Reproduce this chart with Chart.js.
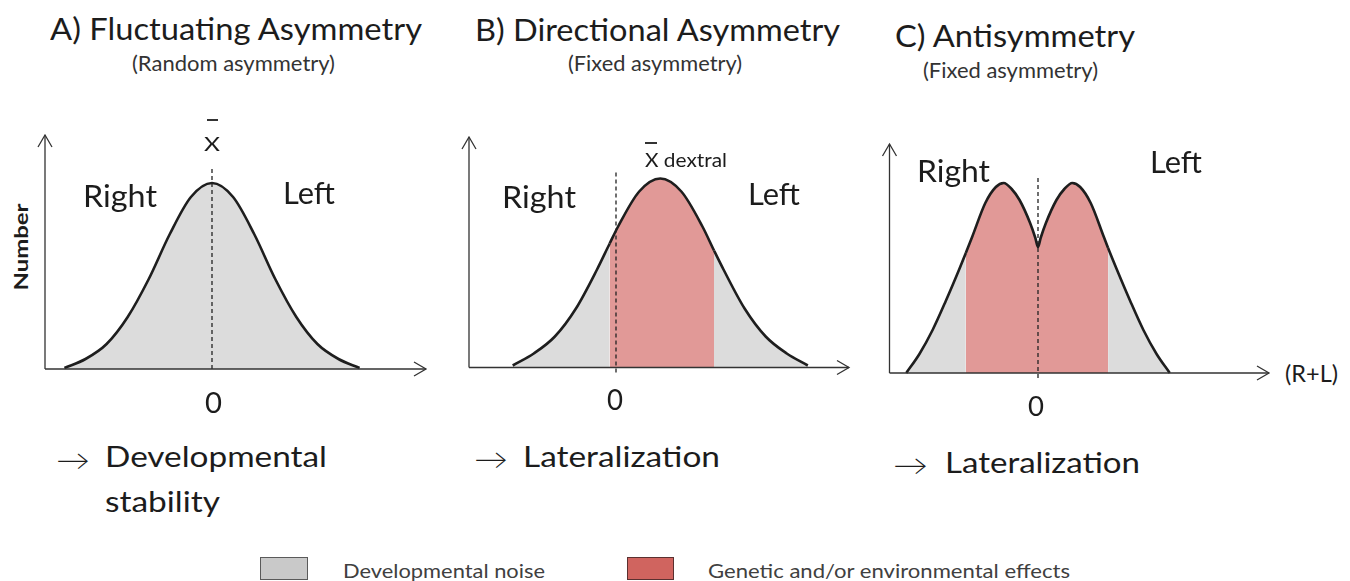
<!DOCTYPE html>
<html><head><meta charset="utf-8">
<script src="https://cdn.jsdelivr.net/npm/chart.js@4.4.1/dist/chart.umd.min.js"></script>
<style>
html,body{margin:0;padding:0;background:#fff;width:1350px;height:581px;overflow:hidden;position:relative;}
canvas{position:absolute;}
.lbl{position:absolute;white-space:nowrap;line-height:1;color:#1c1c1c;font-family:Lato,'Open Sans',sans-serif;transform-origin:0 0;}
.box{position:absolute;box-sizing:border-box;}
</style></head><body>
<canvas id="cA"></canvas>
<canvas id="cB"></canvas>
<canvas id="cC"></canvas>
<script>
// ---------------- data ----------------
// A) Fluctuating asymmetry: deviation (R-L, in SD units) vs number
const xA = [-2.8,-2.4,-2.0,-1.6,-1.2,-0.8,-0.4,0,0.4,0.8,1.2,1.6,2.0,2.4,2.8];
const nA = [1,10,25,52,90,135,172,186,172,135,90,52,25,10,1];
// B) Directional asymmetry
const xB = [-1.96,-1.56,-1.16,-0.76,-0.36,-0.12,0.04,0.44,0.84,1.24,1.64,1.86,2.04,2.44,2.84,3.24,3.64];
const nB = [2,14,31,59,98,124,141,176,189,176,141,117,98,59,31,14,2];
const redB = [-0.12, 1.86];
// C) Antisymmetry
const xC = [-2.5,-2.25,-2.0,-1.75,-1.5,-1.37,-1.25,-1.0,-0.8,-0.65,-0.5,-0.35,-0.15,-0.05,0,0.05,0.15,0.35,0.5,0.65,0.8,1.0,1.25,1.33,1.5,1.75,2.0,2.25,2.5];
const nC = [0,19,43,72,103,120,136,170,186,190,184,173,150,135,126,135,150,173,184,190,186,170,136,125,103,72,43,19,0];
const redC = [-1.37, 1.33];
// dashed zero line extent (number axis)
const meanA = [0, 202];
const meanB = [-5, 196];
const meanC = [-5, 198];
const zeroTick = ['0'];

// ---------------- style / layout ----------------
const GRAY = '#dcdcdc', RED = '#e19997', STROKE = '#1e1e1e';
const UNIT = 52.7;
const panels = [
  {id:'cA', xs:xA, ys:nA, red:null, mean:meanA, zero:212, base:369,   yAxis:45,    yTip:135, xTip:426,  left:35,  top:125, w:402, h:262},
  {id:'cB', xs:xB, ys:nB, red:redB, mean:meanB, zero:616, base:367.5, yAxis:469,   yTip:137, xTip:849,  left:459, top:127, w:400, h:262},
  {id:'cC', xs:xC, ys:nC, red:redC, mean:meanC, zero:1038,base:373,   yAxis:889.5, yTip:144, xTip:1269, left:879, top:134, w:400, h:262}
];

const arrowAxes = {
  id:'arrowAxes',
  afterDatasetsDraw(chart, args, o){
    const {ctx, scales:{x,y}} = chart;
    const ox = x.getPixelForValue(o.yAxisAt), oy = y.getPixelForValue(0);
    const tx = x.getPixelForValue(o.xTip), ty = y.getPixelForValue(o.yTip);
    ctx.save();
    ctx.strokeStyle = '#333'; ctx.lineWidth = 1.3;
    ctx.beginPath();
    ctx.moveTo(ox, oy); ctx.lineTo(tx, oy);
    ctx.moveTo(ox, oy); ctx.lineTo(ox, ty);
    ctx.stroke();
    ctx.beginPath();
    ctx.moveTo(tx-12, oy-7); ctx.lineTo(tx, oy); ctx.lineTo(tx-12, oy+7);
    ctx.moveTo(ox-7, ty+12); ctx.lineTo(ox, ty); ctx.lineTo(ox+7, ty+12);
    ctx.stroke();
    ctx.restore();
  }
};

panels.forEach(p => {
  const cv = document.getElementById(p.id);
  cv.width = p.w; cv.height = p.h;
  cv.style.left = p.left + 'px'; cv.style.top = p.top + 'px';
  cv.style.width = p.w + 'px'; cv.style.height = p.h + 'px';
  const xs = p.xs, red = p.red;
  new Chart(cv, {
    type:'line',
    data:{datasets:[
      {
        data: xs.map((x,i)=>({x, y:p.ys[i]})),
        fill:'origin', backgroundColor:GRAY, borderColor:STROKE, borderWidth:2.6,
        pointRadius:0, cubicInterpolationMode:'monotone', order:1,
        segment:{
          backgroundColor: c => (red && xs[c.p0DataIndex] >= red[0]-1e-6 && xs[c.p1DataIndex] <= red[1]+1e-6) ? RED : undefined
        }
      },
      {
        data:[{x:0,y:p.mean[0]},{x:0,y:p.mean[1]}],
        borderColor:'#222', borderWidth:1.3, borderDash:[4,3], pointRadius:0, fill:false, tension:0, order:0
      }
    ]},
    options:{
      responsive:false, animation:false, devicePixelRatio:1,
      layout:{padding:0},
      events:[],
      scales:{
        x:{type:'linear', display:false, min:(p.left-p.zero)/UNIT, max:(p.left+p.w-p.zero)/UNIT},
        y:{type:'linear', display:false, min:p.base-(p.top+p.h), max:p.base-p.top}
      },
      plugins:{
        legend:{display:false}, tooltip:{enabled:false},
        arrowAxes:{yAxisAt:(p.yAxis-p.zero)/UNIT, xTip:(p.xTip-p.zero)/UNIT, yTip:p.base-p.yTip}
      }
    },
    plugins:[arrowAxes]
  });
});

// ---------------- text ----------------
const labels = [
 {t:'A) Fluctuating Asymmetry', x:50, b:40, s:31, w:372},
 {t:'B) Directional Asymmetry', x:475, b:40.5, s:31, w:365},
 {t:'C) Antisymmetry', x:895, b:47, s:31, w:240},
 {t:'(Random asymmetry)', x:132, b:70.5, s:21, w:203, c:'#333'},
 {t:'(Fixed asymmetry)', x:568, b:70.7, s:21, w:174, c:'#333'},
 {t:'(Fixed asymmetry)', x:923, b:78.3, s:21, w:175, c:'#333'},
 {t:'X', x:204, b:150.7, s:19.5, w:16},
 {t:'X dextral', x:645, b:166.7, s:19.5, w:82},
 {t:'Right', x:83, b:206.7, s:30, w:74},
 {t:'Left', x:283, b:204, s:30, w:52},
 {t:'Right', x:502, b:208, s:30, w:74},
 {t:'Left', x:748, b:205, s:30, w:52},
 {t:'Right', x:917, b:182, s:30, w:73},
 {t:'Left', x:1150, b:173, s:30, w:52},
 {t:zeroTick[0], x:205, b:413, s:29, w:17},
 {t:zeroTick[0], x:607, b:410, s:29, w:16},
 {t:zeroTick[0], x:1028, b:416, s:27, w:16},
 {t:'(R+L)', x:1285, b:381.7, s:23, w:53},
 {t:'\u2192', x:56, b:470, s:28, w:34, wt:300},
 {t:'Developmental', x:105, b:466.7, s:28, w:222},
 {t:'stability', x:105, b:511.7, s:28, w:115},
 {t:'\u2192', x:474, b:468.5, s:28, w:34, wt:300},
 {t:'Lateralization', x:523, b:467, s:28, w:197},
 {t:'\u2192', x:893, b:474.5, s:28, w:35, wt:300},
 {t:'Lateralization', x:945, b:473, s:28, w:195},
 {t:'Developmental noise', x:343, b:578.3, s:20, w:202, c:'#404040'},
 {t:'Genetic and/or environmental effects', x:708, b:578.3, s:20, w:362, c:'#404040'}
];
function place(o){
  const d = document.createElement('div');
  d.className = 'lbl';
  d.style.fontSize = o.s + 'px';
  if (o.bold) d.style.fontWeight = 'bold';
  if (o.wt) d.style.fontWeight = o.wt;
  if (o.c) d.style.color = o.c;
  d.textContent = o.t;
  const m = document.createElement('span');
  m.style.cssText = 'display:inline-block;width:0;height:0;vertical-align:baseline;';
  d.appendChild(m);
  document.body.appendChild(d);
  const base = m.offsetTop;
  const w = d.getBoundingClientRect().width;
  d.style.left = o.x + 'px';
  d.style.top = (o.b - base) + 'px';
  d.style.transform = 'scaleX(' + (o.w / w) + ')';
  return d;
}
labels.forEach(place);

// rotated y-axis title
(function(){
  const d = document.createElement('div');
  d.className = 'lbl';
  d.style.fontSize = '18px'; d.style.fontWeight = 'bold';
  d.textContent = 'Number';
  document.body.appendChild(d);
  const w = d.getBoundingClientRect().width, h = d.getBoundingClientRect().height;
  d.style.left = (21 - w/2) + 'px'; d.style.top = (247 - h/2) + 'px';
  d.style.transformOrigin = '50% 50%';
  d.style.transform = 'rotate(-90deg) scaleX(' + (87 / w) + ')';
})();

// overbars for X-bar
[[207,119,11],[645,142,12]].forEach(([x,y,w])=>{
  const b = document.createElement('div');
  b.className = 'box';
  b.style.cssText += `left:${x}px;top:${y}px;width:${w}px;height:1.5px;background:#333;`;
  document.body.appendChild(b);
});

// legend swatches
[[260,557,48,23,'#c9c9c9','#5a5a5a'],[627,557,47,23,'#d0645f','#5a3030']].forEach(([x,y,w,h,f,b])=>{
  const s = document.createElement('div');
  s.className = 'box';
  s.style.cssText += `left:${x}px;top:${y}px;width:${w}px;height:${h}px;background:${f};border:1.5px solid ${b};`;
  document.body.appendChild(s);
});
</script>
</body></html>
